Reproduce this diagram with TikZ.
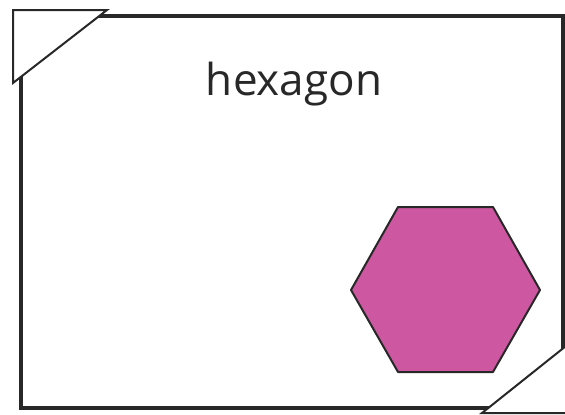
\documentclass[tikz,border=0pt]{standalone}
\usepackage{fontspec}
\setmainfont{Open Sans}
\definecolor{hexpink}{RGB}{205,87,160}
\definecolor{inkgray}{RGB}{40,40,40}
\begin{document}
\begin{tikzpicture}[x=1pt, y=-1pt,
    card/.style={draw=inkgray, line width=3.2pt},
    flap/.style={draw=inkgray, fill=white, line width=2pt, line join=miter},
    hexshape/.style={draw=inkgray, fill=hexpink, line width=2pt, line join=round}]
        \useasboundingbox (0,0) rectangle (565,415);
        % the card
        \draw[card] (21,16) rectangle (563,408);
        % corner flaps
        \draw[flap] (13,10) -- (107,10) -- (13,83) -- cycle;
        \draw[flap] (482,413) -- (566,346) -- (566,413) -- cycle;
        % shape and its name
        \draw[hexshape] (398,207) -- (493,207) -- (540,290) -- (493,372) -- (398,372) -- (351,290) -- cycle;
        \node[text=inkgray, font=\fontsize{44}{48}\selectfont, anchor=base] (name) at (294,95) {hexagon};
      \end{tikzpicture}
\end{document}
